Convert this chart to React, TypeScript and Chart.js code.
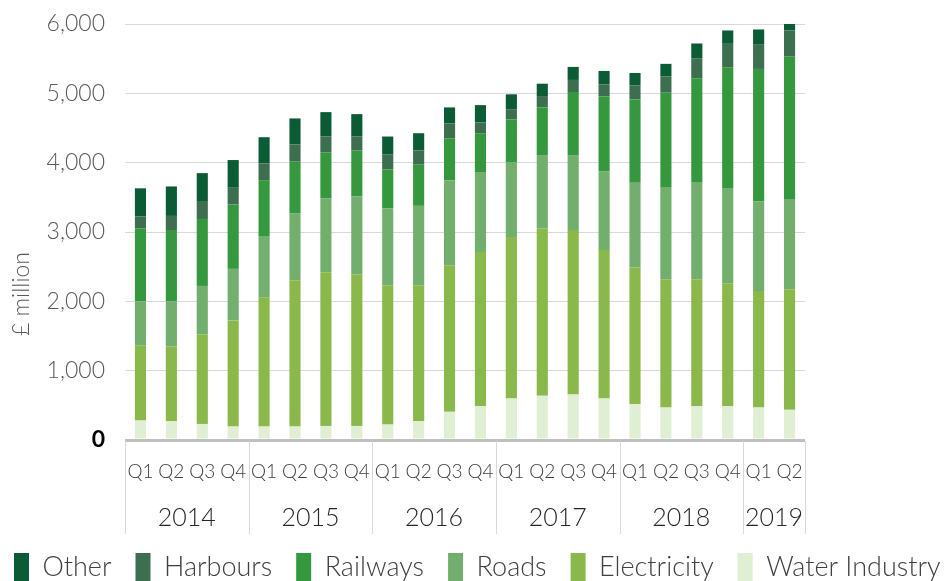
import React, { useEffect, useRef } from "react";
import { Chart, registerables } from "chart.js";

Chart.register(...registerables);

const quarters = ["Q1","Q2","Q3","Q4","Q1","Q2","Q3","Q4","Q1","Q2","Q3","Q4","Q1","Q2","Q3","Q4","Q1","Q2","Q3","Q4","Q1","Q2"];
const years = ["2014", "2015", "2016", "2017", "2018", "2019"];
const yearSizes = [4, 4, 4, 4, 4, 2];
const yTitle = "£ million";

const water = [280, 270, 232, 193, 193, 193, 203, 203, 222, 270, 406, 487, 599, 638, 657, 599, 516, 468, 487, 487, 468, 435];
const electricity = [1080, 1078, 1294, 1532, 1859, 2111, 2217, 2188, 2010, 1962, 2116, 2223, 2329, 2410, 2372, 2140, 1971, 1851, 1832, 1774, 1681, 1739];
const roads = [640, 652, 696, 743, 880, 961, 1063, 1121, 1110, 1145, 1221, 1145, 1081, 1062, 1081, 1139, 1223, 1319, 1391, 1362, 1290, 1290];
const railways = [1050, 1029, 966, 928, 816, 749, 662, 662, 561, 594, 609, 570, 614, 687, 909, 1079, 1203, 1371, 1507, 1748, 1913, 2066];
const harbours = [175, 203, 247, 242, 242, 251, 232, 203, 213, 207, 213, 155, 149, 164, 174, 173, 203, 237, 290, 343, 358, 377];
const other = [405, 425, 414, 400, 377, 373, 352, 323, 261, 247, 232, 250, 214, 178, 188, 193, 178, 179, 212, 193, 211, 100];

const FONT = "'Source Sans Pro', Lato, 'Open Sans', sans-serif";

const yearPlugin = {
  id: "yearGroups",
  afterDraw(chart: any) {
    const x = chart.scales.x;
    const ctx = chart.ctx;
    const n = quarters.length;
    const step = (x.right - x.left) / n;
    const top = chart.chartArea.bottom;
    const bottom = top + 94;
    ctx.save();
    ctx.strokeStyle = "#d9d9d9";
    ctx.lineWidth = 1;
    let idx = 0;
    const bounds: number[] = [x.left];
    yearSizes.forEach((s) => {
      idx += s;
      bounds.push(x.left + idx * step);
    });
    bounds.forEach((b) => {
      const px = Math.round(b) + 0.5;
      ctx.beginPath();
      ctx.moveTo(px, top + 1);
      ctx.lineTo(px, bottom);
      ctx.stroke();
    });
    ctx.fillStyle = "#262626";
    ctx.font = `300 25px ${FONT}`;
    ctx.textAlign = "center";
    ctx.textBaseline = "middle";
    years.forEach((yr, i) => {
      const mid = (bounds[i] + bounds[i + 1]) / 2;
      ctx.fillText(yr, mid, top + 78);
    });
    // y-axis title
    ctx.fillStyle = "#595959";
    ctx.font = `300 23px ${FONT}`;
    ctx.translate(22, 294);
    ctx.rotate(-Math.PI / 2);
    ctx.fillText(yTitle, 0, 0);
    ctx.restore();
  },
};

export default function App() {
  const ref = useRef<HTMLCanvasElement | null>(null);
  useEffect(() => {
    if (!ref.current) return;
    const mk = (label: string, data: number[], color: string) => ({
      label,
      data,
      backgroundColor: color,
      borderWidth: 0,
      barPercentage: 0.36,
      categoryPercentage: 1,
    });
    const chart = new Chart(ref.current, {
      type: "bar",
      data: {
        labels: quarters,
        datasets: [
          mk("Water Industry", water, "#e0eed4"),
          mk("Electricity", electricity, "#8ab84b"),
          mk("Roads", roads, "#72ae6e"),
          mk("Railways", railways, "#36983e"),
          mk("Harbours", harbours, "#3d6e50"),
          mk("Other", other, "#0b5c36"),
        ],
      },
      plugins: [yearPlugin],
      options: {
        animation: false,
        responsive: true,
        maintainAspectRatio: false,
        layout: { padding: { top: 24, left: -10, right: -20, bottom: -11 } },
        plugins: {
          tooltip: { enabled: false },
          legend: {
            position: "bottom",
            align: "start",
            reverse: true,
            labels: {
              boxWidth: 15,
              boxHeight: 29,
              padding: 24,
              color: "#404040",
              font: { family: FONT, size: 27, weight: "300" },
            },
          },
        },
        scales: {
          x: {
            stacked: true,
            grid: { display: false },
            border: { display: false },
            ticks: {
              color: "#404040",
              font: { family: FONT, size: 19, weight: "300" },
              padding: 12,
              maxRotation: 0,
              autoSkip: false,
            },
            afterFit: (s: any) => {
              s.height = 89;
            },
          },
          y: {
            stacked: true,
            min: 0,
            max: 6000,
            ticks: {
              stepSize: 1000,
              padding: 20,
              callback: (v: any) => Number(v).toLocaleString("en-GB"),
              color: (c: any) => (c.tick && c.tick.value === 0 ? "#000000" : "#595959"),
              font: (c: any) => ({
                family: FONT,
                size: 23,
                weight: c.tick && c.tick.value === 0 ? "bold" : "300",
              }),
            },
            grid: {
              drawTicks: false,
              color: (c: any) => (c.tick && c.tick.value === 0 ? "#bfbfbf" : "#d9d9d9"),
              lineWidth: (c: any) => (c.tick && c.tick.value === 0 ? 3 : 1),
            },
            border: { display: false },
            title: { display: false },
            afterFit: (s: any) => {
              s.width = 135;
              s.paddingTop = 0;
              s.paddingBottom = 0;
            },
          },
          y2: {
            position: "right",
            display: true,
            grid: { display: false },
            border: { display: false },
            ticks: { display: false },
            afterFit: (s: any) => {
              s.width = 165;
              s.paddingTop = 0;
              s.paddingBottom = 0;
            },
          },
        },
      },
    } as any);
    return () => chart.destroy();
  }, []);
  return (
    <div style={{ position: "absolute", left: 0, top: 0, width: 950, height: 581 }}>
      <canvas ref={ref} />
    </div>
  );
}
